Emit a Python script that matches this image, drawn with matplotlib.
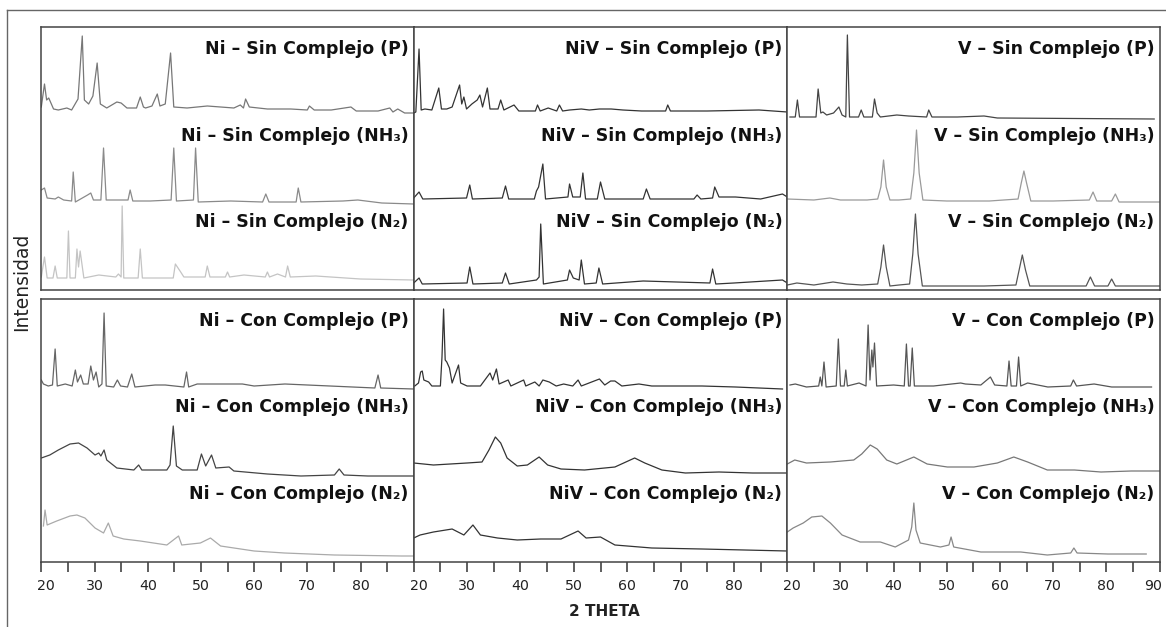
import matplotlib
matplotlib.use("Agg")
import matplotlib.pyplot as plt
from matplotlib.ticker import FixedLocator
import matplotlib.transforms as mtransforms
from matplotlib.lines import Line2D

# ---------------- data (2-theta, intensity in a.u. above each trace baseline) -------------
COLUMNS = ["Ni", "NiV", "V"]
BLOCKS = ["Sin Complejo", "Con Complejo"]
ROWS = ["(P)", "(NH₃)", "(N₂)"]
X_TICKS = [20, 30, 40, 50, 60, 70, 80, 90]
X_MINOR = [25, 35, 45, 55, 65, 75, 85]

# --- Sin Complejo ---
NI_SIN_P_X = [20, 20.6, 21.0, 21.4, 22.3, 23.2, 24.8, 25.7, 26.9, 27.7, 28.1, 28.9, 29.7, 30.5, 31.1, 32.3,
              34.2, 35.0, 36.1, 37.9, 38.6, 39.2, 39.6, 40.8, 41.8, 42.3, 43.3, 44.3, 44.9, 47.4, 51.2, 56.2,
              57.4, 58.0, 58.4, 59.1, 62.5, 66.9, 70.0, 70.4, 71.3, 74.5, 78.2, 79.2, 83.3, 85.5, 86.1, 87.0,
              88.3, 90]
NI_SIN_P_Y = [6, 29, 13, 15, 4, 3, 5, 3, 14, 77, 13, 9, 17, 50, 9, 5, 11, 10, 5, 5, 16, 6, 5, 7, 19, 7, 9, 60,
              6, 5, 7, 5, 8, 5, 14, 6, 4, 4, 3, 7, 3, 3, 6, 2, 2, 5, 1, 4, 0, 0]
NI_SIN_NH3_X = [20, 20.6, 21.1, 22.6, 23.2, 24.2, 25.7, 26.0, 26.4, 28.7, 29.3, 29.8, 31.2, 31.7, 32.2, 34.2,
                36.3, 36.7, 37.2, 40.5, 44.4, 44.9, 45.4, 48.6, 49.0, 49.5, 55.6, 61.6, 62.2, 62.8, 65.3,
                67.9, 68.3, 68.8, 76.7, 79.5, 84, 90]
NI_SIN_NH3_Y = [14, 16, 6, 5, 7, 4, 3, 32, 2, 9, 11, 4, 4, 56, 4, 4, 4, 14, 3, 3, 4, 56, 3, 4, 56, 2, 3, 2,
                10, 2, 2, 2, 16, 2, 3, 4, 1, 0]
NI_SIN_N2_X = [20, 20.6, 21.1, 22.2, 22.6, 23.0, 24.8, 25.1, 25.4, 26.4, 26.7, 27.0, 27.3, 28, 30.8, 34.0,
               34.5, 35.0, 35.2, 35.5, 38.2, 38.6, 39.0, 44.8, 45.2, 46.2, 46.8, 48.5, 50.8, 51.2, 51.7, 54.6,
               55.0, 55.4, 58.1, 62.1, 62.5, 62.9, 64.4, 65.9, 66.3, 66.8, 71.6, 80, 90]
NI_SIN_N2_Y = [3, 23, 2, 2, 14, 2, 2, 49, 2, 2, 31, 13, 29, 2, 5, 3, 6, 3, 74, 2, 2, 31, 2, 2, 16, 8, 3, 3,
               3, 14, 3, 3, 8, 3, 5, 3, 8, 3, 6, 3, 14, 3, 4, 1, 0]

NIV_SIN_P_X = [20, 20.4, 21.0, 21.4, 22.1, 23.4, 24.7, 25.2, 26.2, 27.2, 28.6, 29.0, 29.4, 29.9, 30.9, 31.9,
               32.4, 32.9, 33.8, 34.3, 35.8, 36.3, 36.9, 38.8, 39.7, 42.8, 43.2, 43.7, 45.2, 46.8, 47.3, 47.9,
               49.2, 51.4, 52.9, 54.8, 57.0, 59.2, 62.7, 67.2, 67.6, 68.1, 75, 84.7, 90]
NIV_SIN_P_Y = [0, 1, 64, 3, 4, 3, 25, 4, 4, 6, 28, 9, 16, 4, 9, 13, 18, 6, 25, 4, 4, 13, 3, 8, 2, 2, 8, 2, 5,
               2, 8, 2, 3, 4, 3, 4, 4, 3, 2, 2, 8, 2, 2, 3, 1]
NIV_SIN_NH3_X = [20, 21.0, 21.7, 29.9, 30.5, 31.0, 36.6, 37.2, 37.8, 42.6, 43.0, 43.4, 44.2, 44.7, 48.9, 49.2,
                 49.8, 51.2, 51.7, 52.2, 54.4, 55.0, 55.8, 63.0, 63.6, 64.3, 72.5, 73.1, 73.8, 76.0, 76.4,
                 77.2, 80.3, 85, 89.1, 90]
NIV_SIN_NH3_Y = [2, 8, 1, 2, 15, 1, 2, 14, 1, 1, 9, 13, 36, 1, 3, 16, 3, 3, 27, 1, 1, 18, 1, 1, 11, 1, 1, 5,
                 1, 2, 13, 3, 3, 1, 6, 3]
NIV_SIN_N2_X = [20, 21.0, 21.6, 30.0, 30.5, 31.1, 36.6, 37.2, 37.9, 43.0, 43.5, 43.8, 44.3, 48.8, 49.2, 49.9,
                51.0, 51.4, 52.0, 54.2, 54.7, 55.4, 63.0, 75.5, 76.0, 76.6, 80, 89.1, 90]
NIV_SIN_N2_Y = [2, 7, 1, 2, 18, 1, 2, 12, 1, 5, 8, 61, 1, 5, 15, 7, 5, 25, 1, 2, 17, 1, 4, 2, 16, 1, 2, 5, 2]

V_SIN_P_X = [20.5, 21.5, 21.9, 22.3, 23.6, 25.4, 25.8, 26.3, 26.7, 27.4, 28.7, 29.7, 30.3, 31.0, 31.3, 31.7,
             33.4, 33.9, 34.4, 36.0, 36.4, 36.9, 37.5, 40.6, 42.8, 46.2, 46.6, 47.2, 52, 57.0, 59.5, 89.0]
V_SIN_P_Y = [2, 2, 19, 2, 2, 2, 30, 6, 7, 4, 6, 12, 4, 2, 84, 2, 2, 9, 2, 2, 20, 6, 2, 4, 3, 2, 9, 2, 2, 3,
             1, 0]
V_SIN_NH3_X = [20, 25, 28.0, 30, 35, 37.0, 37.6, 38.1, 38.6, 39.3, 41, 43.2, 43.8, 44.3, 44.8, 45.5, 50, 58,
               63.4, 64.0, 64.5, 65.0, 65.8, 70, 76.8, 77.5, 78.2, 81.0, 81.7, 82.4, 86, 90]
V_SIN_NH3_Y = [3, 2, 4, 2, 2, 3, 15, 42, 15, 2, 2, 3, 29, 72, 29, 2, 1, 1, 3, 19, 31, 19, 1, 1, 2, 10, 1, 1,
               8, 0, 0, 0]
V_SIN_N2_X = [20, 21.8, 25, 28.6, 31.2, 34, 37.0, 37.6, 38.1, 38.6, 39.3, 41, 43.0, 43.6, 44.1, 44.6, 45.4,
              50, 57, 63.0, 63.6, 64.2, 64.8, 65.6, 70, 76.2, 77.0, 77.8, 80.3, 81.0, 81.7, 86, 90]
V_SIN_N2_Y = [2, 4, 2, 5, 3, 2, 3, 20, 42, 20, 1, 2, 3, 33, 73, 33, 1, 1, 1, 2, 17, 32, 17, 1, 1, 1, 10, 1,
              1, 8, 1, 1, 1]

# --- Con Complejo ---
NI_CON_P_X = [20, 20.4, 21.3, 22.1, 22.6, 23.0, 24.5, 25.8, 26.4, 26.8, 27.4, 27.9, 28.8, 29.3, 29.8, 30.3,
              30.8, 31.4, 31.8, 32.2, 33.6, 34.3, 34.9, 36.2, 37.0, 37.6, 41.4, 43.3, 46.8, 47.3, 47.7, 49.3,
              57.8, 60.0, 65.8, 82.7, 83.3, 83.8, 90]
NI_CON_P_Y = [9, 5, 3, 4, 40, 3, 5, 3, 19, 7, 14, 5, 5, 23, 9, 17, 2, 5, 76, 3, 2, 9, 3, 2, 15, 2, 4, 4, 2,
              17, 2, 5, 5, 3, 5, 1, 14, 1, 0]
NI_CON_NH3_X = [20, 21.6, 23.2, 25.4, 27.0, 28.6, 30.1, 30.8, 31.2, 31.8, 32.3, 34.2, 37.4, 38.3, 38.9, 43.6,
                44.2, 44.8, 45.4, 46.5, 49.3, 50.1, 50.9, 52.0, 52.8, 55.3, 56.2, 62.5, 68.8, 75.1, 76.0,
                76.9, 81.4, 90]
NI_CON_NH3_Y = [19, 22, 27, 33, 34, 29, 22, 24, 21, 27, 17, 9, 7, 12, 7, 7, 12, 51, 11, 7, 7, 23, 11, 22, 9,
                10, 6, 3, 1, 2, 8, 2, 1, 1]
NI_CON_N2_X = [20.4, 20.7, 21.1, 22.9, 25.4, 26.7, 28.2, 30.1, 31.7, 32.6, 33.5, 35.5, 38.6, 43.6, 45.8,
               46.4, 49.9, 51.8, 53.7, 60, 65.7, 75.1, 87.7, 90]
NI_CON_N2_Y = [31, 47, 32, 36, 41, 42, 39, 29, 24, 34, 21, 18, 16, 12, 21, 12, 14, 19, 11, 6, 4, 2, 1, 1]

NIV_CON_P_X = [20.2, 20.9, 21.3, 21.6, 21.9, 22.8, 23.4, 25.0, 25.3, 25.6, 25.9, 26.2, 26.7, 27.2, 28.4, 28.8,
               30, 32.5, 34.3, 34.8, 35.5, 36.0, 37.7, 38.2, 40.6, 41.0, 42.7, 43.5, 44.2, 45.4, 46.7, 48.1,
               49.8, 50.8, 51.4, 54.8, 55.8, 56.9, 57.7, 59.0, 62.2, 64.6, 74.0, 80.3, 89.1]
NIV_CON_P_Y = [3, 6, 17, 18, 9, 7, 3, 3, 32, 80, 29, 27, 21, 6, 24, 6, 3, 3, 16, 9, 20, 5, 9, 3, 9, 3, 7, 3,
               9, 7, 3, 5, 3, 9, 3, 10, 4, 8, 8, 3, 5, 3, 3, 2, 0]
NIV_CON_NH3_X = [20, 23.7, 30, 32.8, 34.1, 35.3, 36.3, 37.5, 39.4, 41.3, 43.5, 45.1, 47.6, 52.0, 57.7, 61.4,
                 63.3, 66.5, 70.9, 77.2, 83.5, 90]
NIV_CON_NH3_Y = [11, 9, 11, 12, 24, 37, 31, 16, 8, 9, 17, 9, 5, 4, 7, 16, 11, 4, 1, 2, 1, 1]
NIV_CON_N2_X = [20, 21.2, 23.7, 27.2, 29.4, 31.1, 32.5, 35.7, 39.4, 43.8, 47.6, 50.8, 52.3, 55.0, 57.7, 64.6,
                74.0, 90]
NIV_CON_N2_Y = [14, 17, 20, 23, 17, 27, 17, 14, 12, 13, 13, 21, 14, 15, 7, 4, 3, 1]

V_CON_P_X = [20.5, 21.5, 23.6, 25.9, 26.2, 26.5, 26.9, 27.3, 29.2, 29.6, 30.0, 30.7, 31.0, 31.3, 33.5, 34.8,
             35.2, 35.55, 35.9, 36.1, 36.4, 36.8, 40.0, 42.0, 42.4, 42.8, 43.1, 43.5, 43.9, 47.5, 52.6, 53.5,
             56.4, 58.2, 59.0, 61.3, 61.7, 62.1, 63.1, 63.5, 63.9, 65.2, 69.0, 73.3, 73.8, 74.4, 77.7, 81, 88.5]
V_CON_P_Y = [3, 4, 1, 2, 11, 2, 26, 1, 2, 49, 2, 2, 18, 2, 5, 2, 63, 8, 38, 21, 45, 2, 3, 2, 44, 2, 2, 40, 2,
             2, 5, 4, 3, 11, 3, 2, 27, 2, 2, 31, 2, 5, 1, 2, 8, 2, 4, 1, 1]
V_CON_NH3_X = [20, 21.4, 23.6, 28.1, 32.5, 34.0, 35.6, 36.9, 38.7, 40.6, 43.8, 46.3, 50.1, 55.1, 59.5, 62.6,
               65.2, 68.9, 74.0, 79.0, 84.7, 90]
V_CON_NH3_Y = [9, 13, 10, 11, 13, 19, 28, 24, 13, 9, 16, 9, 6, 6, 10, 16, 11, 3, 3, 1, 2, 2]
V_CON_N2_X = [20, 21.1, 23.0, 24.6, 26.5, 28.1, 30.3, 33.7, 37.5, 40.3, 42.8, 43.4, 43.8, 44.2, 45.0, 48.8,
              50.4, 50.8, 51.3, 56.4, 63.9, 68.9, 73.3, 73.9, 74.5, 80.3, 87.5]
V_CON_N2_Y = [24, 28, 33, 39, 40, 33, 21, 14, 14, 9, 16, 29, 53, 26, 13, 9, 11, 19, 9, 4, 4, 1, 3, 8, 3, 2, 2]

# ---------------- layout / style ----------------
W, H = 1166, 627
COL_EDGES = [41.3, 413.7, 787.3, 1159.5]
BLOCK_TOPS = [27.0, 299.0]
BLOCK_H = 263.0
LABEL_BASELINES = [27, 113.5, 200]           # px below block top
# baseline offset (px below block top) and colour per trace
TRACES = [
    # block 0: Sin Complejo
    (0, 0, 0, NI_SIN_P_X, NI_SIN_P_Y, 86, "#777777"),
    (0, 0, 1, NI_SIN_NH3_X, NI_SIN_NH3_Y, 177, "#8a8a8a"),
    (0, 0, 2, NI_SIN_N2_X, NI_SIN_N2_Y, 253, "#c4c4c4"),
    (0, 1, 0, NIV_SIN_P_X, NIV_SIN_P_Y, 86, "#333333"),
    (0, 1, 1, NIV_SIN_NH3_X, NIV_SIN_NH3_Y, 173, "#333333"),
    (0, 1, 2, NIV_SIN_N2_X, NIV_SIN_N2_Y, 258, "#333333"),
    (0, 2, 0, V_SIN_P_X, V_SIN_P_Y, 92, "#444444"),
    (0, 2, 1, V_SIN_NH3_X, V_SIN_NH3_Y, 175, "#9a9a9a"),
    (0, 2, 2, V_SIN_N2_X, V_SIN_N2_Y, 260, "#555555"),
    # block 1: Con Complejo
    (1, 0, 0, NI_CON_P_X, NI_CON_P_Y, 90, "#666666"),
    (1, 0, 1, NI_CON_NH3_X, NI_CON_NH3_Y, 178, "#444444"),
    (1, 0, 2, NI_CON_N2_X, NI_CON_N2_Y, 258, "#aaaaaa"),
    (1, 1, 0, NIV_CON_P_X, NIV_CON_P_Y, 90, "#333333"),
    (1, 1, 1, NIV_CON_NH3_X, NIV_CON_NH3_Y, 175, "#333333"),
    (1, 1, 2, NIV_CON_N2_X, NIV_CON_N2_Y, 253, "#333333"),
    (1, 2, 0, V_CON_P_X, V_CON_P_Y, 89, "#555555"),
    (1, 2, 1, V_CON_NH3_X, V_CON_NH3_Y, 174, "#777777"),
    (1, 2, 2, V_CON_N2_X, V_CON_N2_Y, 257, "#888888"),
]

FRAME = "#444444"
plt.rcParams["font.family"] = ["DejaVu Sans"]

fig = plt.figure(figsize=(W / 100, H / 100), dpi=100)

# outer border
fig.add_artist(Line2D([7 / W, 7 / W], [1 - 10 / H, -0.01], transform=fig.transFigure,
                      color="#666666", lw=1.0))
fig.add_artist(Line2D([7 / W, 1.01], [1 - 10 / H, 1 - 10 / H], transform=fig.transFigure,
                      color="#666666", lw=1.0))

axes = {}
for b in range(2):
    for c in range(3):
        x0 = COL_EDGES[c]
        x1 = COL_EDGES[c + 1]
        top = BLOCK_TOPS[b]
        ax = fig.add_axes([x0 / W, 1 - (top + BLOCK_H) / H, (x1 - x0) / W, BLOCK_H / H])
        ax.set_xlim(20, 90)
        ax.set_ylim(0, BLOCK_H)
        ax.set_yticks([])
        for s in ax.spines.values():
            s.set_color(FRAME)
            s.set_linewidth(1.1)
        if b == 0:
            ax.set_xticks([])
        else:
            ticks = X_TICKS if c == 2 else X_TICKS[:-1]
            ax.xaxis.set_major_locator(FixedLocator(ticks))
            ax.xaxis.set_minor_locator(FixedLocator(X_MINOR))
            ax.set_xticklabels([str(t) for t in ticks])
            ax.tick_params(axis="x", which="both", direction="out", length=7.2, width=1.1,
                           color="#333333", labelsize=10.2, labelcolor="#222222", pad=5)
            labs = ax.get_xticklabels()
            labs[0].set_transform(labs[0].get_transform() +
                                  mtransforms.ScaledTranslation(5 / 100, 0, fig.dpi_scale_trans))
            if c == 2:
                labs[-1].set_transform(labs[-1].get_transform() +
                                       mtransforms.ScaledTranslation(-6 / 100, 0, fig.dpi_scale_trans))
        axes[(b, c)] = ax

for (b, c, r, xs, ys, off, col) in TRACES:
    ax = axes[(b, c)]
    ax.plot(xs, [BLOCK_H - off + v for v in ys], color=col, lw=0.9, solid_joinstyle="round")

for b in range(2):
    for c in range(3):
        ax = axes[(b, c)]
        width = COL_EDGES[c + 1] - COL_EDGES[c]
        trans = mtransforms.blended_transform_factory(ax.transAxes, ax.transData)
        for r in range(3):
            label = f"{COLUMNS[c]} – {BLOCKS[b]} {ROWS[r]}"
            ax.text(1 - 5 / width, BLOCK_H - LABEL_BASELINES[r], label, transform=trans,
                    ha="right", va="baseline", fontsize=12.5, fontweight="bold", color="#111111")

fig.text(604 / W, 1 - 612 / H, "2 THETA", ha="center", va="center", fontsize=11,
         fontweight="bold", color="#222222")
fig.text(22 / W, 1 - 282 / H, "Intensidad", ha="center", va="center", rotation=90,
         fontsize=13.5, color="#222222")

fig.savefig("out.png", dpi=100)
